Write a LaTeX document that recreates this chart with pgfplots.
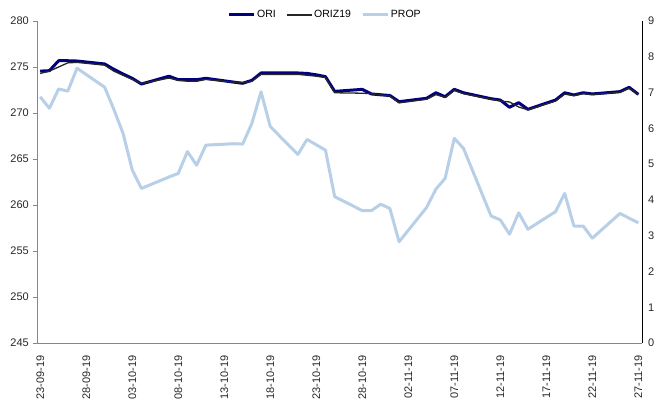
\documentclass[border=0pt]{standalone}
\usepackage{pgfplots}
\pgfplotsset{compat=1.18}
\usepackage{fontspec}
\setmainfont{Liberation Sans}
\definecolor{orinavy}{RGB}{0,0,128}
\definecolor{propblue}{RGB}{184,207,232}
\definecolor{axgray}{RGB}{134,134,134}
\definecolor{txt}{RGB}{40,40,40}

\pgfplotstableread{
d ori oriz prop
0 274.55 274.30 6.88
1 274.60 274.55 6.56
2 275.68 275.00 7.10
3 275.68 275.45 7.04
4 275.65 275.50 7.68
7 275.33 275.20 7.15
8 274.75 274.55 6.53
9 274.24 274.10 5.86
10 273.77 273.65 4.84
11 273.15 273.20 4.32
14 274.00 273.80 4.64
15 273.62 273.55 4.74
16 273.62 273.45 5.35
17 273.62 273.45 4.97
18 273.77 273.65 5.53
21 273.36 273.35 5.57
22 273.23 273.30 5.56
23 273.55 273.45 6.14
24 274.35 274.20 7.02
25 274.35 274.20 6.05
28 274.35 274.20 5.27
29 274.30 274.10 5.69
30 274.15 274.00 5.54
31 273.95 273.85 5.39
32 272.35 272.20 4.09
35 272.57 272.15 3.70
36 272.07 272.10 3.70
37 271.98 271.95 3.88
38 271.90 271.85 3.76
39 271.23 271.10 2.83
42 271.60 271.50 3.79
43 272.20 272.00 4.30
44 271.77 271.70 4.60
45 272.57 272.45 5.72
46 272.20 272.10 5.44
49 271.55 271.50 3.55
50 271.41 271.30 3.44
51 270.62 271.20 3.04
52 271.12 270.65 3.64
53 270.40 270.35 3.18
56 271.41 271.30 3.67
57 272.20 272.05 4.18
58 271.96 271.90 3.27
59 272.20 272.10 3.27
60 272.07 272.00 2.93
63 272.32 272.25 3.62
64 272.79 272.70 3.49
65 272.03 272.00 3.36
}\data

\begin{document}
\begin{tikzpicture}
\useasboundingbox (-37bp,-58bp) rectangle (622bp,343bp);
\pgfplotsset{
  every axis/.append style={
    scale only axis, width=605bp, height=322bp,
    xmin=-0.35, xmax=65.4,
    font=\fontsize{11bp}{13bp}\selectfont,
    /pgf/number format/assume math mode=true,
    tick label style={color=txt},
  }
}
\begin{axis}[
  axis x line*=bottom, axis y line*=left,
  axis line style={color=axgray, line width=0.8bp, -},
  ymin=245, ymax=280, ytick={245,250,...,280},
  ytick style={color=axgray, line width=0.8bp},
  tick align=outside, major tick length=4bp,
  yticklabel style={inner sep=0pt, xshift=-4bp},
  xtick={0,5,...,65},
  xticklabels={23-09-19,28-09-19,03-10-19,08-10-19,13-10-19,18-10-19,23-10-19,28-10-19,02-11-19,07-11-19,12-11-19,17-11-19,22-11-19,27-11-19},
  xtick style={draw=none},
  xticklabel style={inner sep=0pt, yshift=-8bp, rotate=90, anchor=east},
]
\addplot[orinavy, line width=3bp, line join=round] table[x=d, y=ori] {\data};
\addplot[black!85, line width=1.3bp, line join=round] table[x=d, y=oriz] {\data};
\end{axis}
\begin{axis}[
  axis x line=none, axis y line*=right,
  axis line style={color=black, line width=0.8bp, -},
  ymin=0, ymax=9, ytick={0,1,...,9},
  ytick style={draw=none},
  yticklabel style={inner sep=0pt, xshift=6bp, anchor=west},
  xtick=\empty,
  legend style={at={(rel axis cs:0.476,1.019)}, anchor=center, draw=none, fill=none,
    legend columns=3, font=\fontsize{10.5bp}{12bp}\selectfont,
    /tikz/every even column/.append style={column sep=9bp},
    nodes={inner sep=1.5bp}},
  legend image code/.code={\draw[#1] (0bp,0bp) -- (25bp,0bp);},
]
\addlegendimage{orinavy, line width=3bp}
\addlegendentry{ORI}
\addlegendimage{black!85, line width=1.3bp}
\addlegendentry{ORIZ19}
\addplot[propblue, line width=3bp, line join=round] table[x=d, y=prop] {\data};
\addlegendentry{PROP}
\end{axis}
\end{tikzpicture}
\end{document}
